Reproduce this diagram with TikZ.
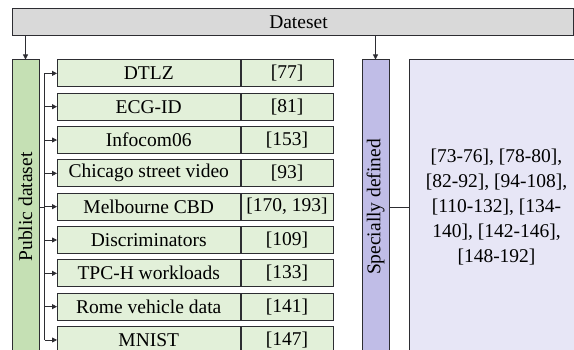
\documentclass[tikz,border=0pt]{standalone}
\usepackage{fontspec}
\setmainfont{Liberation Serif}
\usetikzlibrary{arrows.meta, positioning, calc}
\definecolor{headgray}{RGB}{217,217,217}
\definecolor{darkgreen}{RGB}{197,224,180}
\definecolor{lightgreen}{RGB}{226,240,217}
\definecolor{deeppurple}{RGB}{192,189,231}
\definecolor{lightpurple}{RGB}{231,230,246}
\definecolor{edge}{RGB}{45,45,50}

\begin{document}
\begin{tikzpicture}[x=1pt, y=-1pt, font=\rmfamily\fontsize{19.5}{25}\selectfont,
  box/.style={draw=edge, line width=1pt, inner sep=0pt, minimum height=26.7pt},
  item/.style={box, fill=lightgreen, minimum width=182.5pt},
  refbox/.style={box, fill=lightgreen, minimum width=92pt},
  column/.style={box, minimum width=27pt, minimum height=294pt},
  arr/.style={-{Triangle[length=5pt,width=5pt]}, line width=0.8pt, draw=edge}]
  \useasboundingbox (0,0) rectangle (574,350);
  \clip (0,0) rectangle (574,350);

  \node[box, fill=headgray, minimum width=561pt, minimum height=27pt, text width=561pt, align=center] (dateset) at (292.5,22.5) {\hspace*{12pt}Dateset};

  \node[column, fill=darkgreen, label={[rotate=90]center:Public dataset}] (pub) at (25.5,207) {};
  \node[column, fill=deeppurple, label={[rotate=90]center:Specially defined}] (spec) at (375.5,207) {};
  \node[box, fill=lightpurple, minimum width=175pt, minimum height=294pt, align=center] (refs) at (496.5,207)
    {[73-76], [78-80],\\{}[82-92], [94-108],\\{}[110-132], [134-\\140], [142-146],\\{}[148-192]};

  % list of public datasets
  \coordinate (bus) at ($(pub.east)+(5,0)$);
  \foreach \n/\r [count=\i] in {DTLZ/[77], ECG-ID/[81], Infocom06/[153], Chicago street video/[93],
      Melbourne CBD/{[170, 193]}, Discriminators/[109], TPC-H workloads/[133], Rome vehicle data/[141], MNIST/[147]} {
    \node[item] (n\i) at (148.75, {73.35+33.33*(\i-1)}) {\n};
    \node[refbox, right=0pt of n\i] (r\i) {\r};
    \draw[arr] (bus |- n\i.west) -- (n\i.west);
  }
  \draw[line width=0.8pt, edge] (pub.east) -- (bus);
  \draw[line width=0.8pt, edge] (bus |- n1.west) -- (bus |- n9.west);

  \draw[arr] (dateset.south -| pub.north) -- (pub.north);
  \draw[arr] (dateset.south -| spec.north) -- (spec.north);
  \draw[line width=0.8pt, edge] (spec.east) -- (refs.west);
\end{tikzpicture}
\end{document}
